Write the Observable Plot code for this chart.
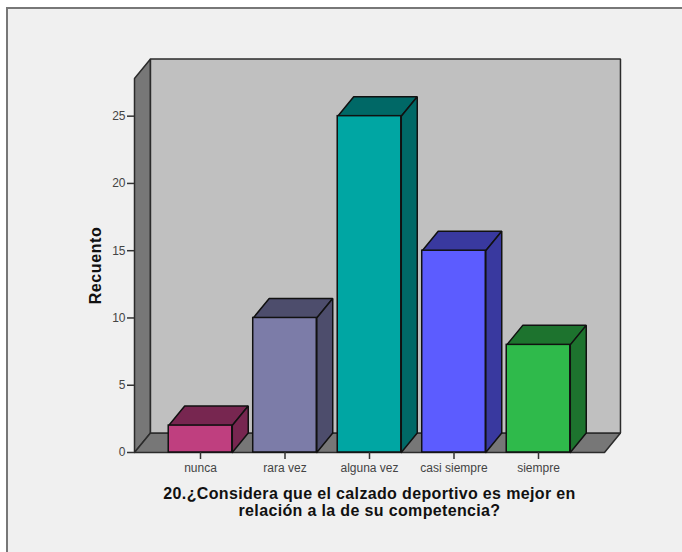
<!DOCTYPE html>
<html lang="es">
<head>
<meta charset="utf-8">
<script src="https://cdn.jsdelivr.net/npm/d3@7"></script>
<script src="https://cdn.jsdelivr.net/npm/@observablehq/plot@0.6"></script>
<style>
  html, body { margin: 0; padding: 0; background: #fff; }
  #panel {
    position: absolute; left: 6px; top: 7px; width: 676px; height: 545px;
    box-sizing: border-box; background: #f0f0f0;
    border-left: 2px solid #777; border-top: 2px solid #777;
  }
  #chart { position: absolute; left: 0; top: 0; }
  #chart svg { background: transparent; display: block; }
  .y-title text { letter-spacing: 0.6px; }
  .x-title text { letter-spacing: 0.35px; }
</style>
</head>
<body>
<div id="panel"></div>
<div id="chart"></div>
<script>
// Answer categories and counts
const categories = ["nunca", "rara vez", "alguna vez", "casi siempre", "siempre"];
const counts = [2, 10, 25, 15, 8];

// Front and shaded face colours of each bar
const frontColors = ["#bf3f7f", "#7c7ca8", "#00a6a3", "#5c5cff", "#2fba4b"];
const shadeColors = ["#772650", "#4d4d6c", "#006866", "#39399f", "#1d732e"];

const yTicks = [0, 5, 10, 15, 20, 25];
const yLabel = "Recuento";
const xTitle = "20.¿Considera que el calzado deportivo es mejor en\nrelación a la de su competencia?";

// Extent of the pseudo-3D box, in data units
const xMin = -0.781, xMax = 4.781, yMax = 27.8;
const depthX = 0.189, depthY = 1.45, halfBar = 0.376;

// Closed polygon rows for the line mark
const polygon = (id, fill, corners) =>
  [...corners, corners[0]].map(([x, y]) => ({id, fill, x, y}));

const box = [
  polygon("wall-left", "#777777", [[xMin, 0], [xMin, yMax], [xMin + depthX, yMax + depthY], [xMin + depthX, depthY]]),
  polygon("floor", "#777777", [[xMin, 0], [xMax, 0], [xMax + depthX, depthY], [xMin + depthX, depthY]]),
  polygon("wall-back", "#c0c0c0", [[xMin + depthX, depthY], [xMax + depthX, depthY], [xMax + depthX, yMax + depthY], [xMin + depthX, yMax + depthY]])
].flat();

const barFaces = counts.flatMap((v, i) => {
  const l = i - halfBar, r = i + halfBar;
  return [
    ...polygon(`top-${i}`, shadeColors[i], [[l, v], [r, v], [r + depthX, v + depthY], [l + depthX, v + depthY]]),
    ...polygon(`side-${i}`, shadeColors[i], [[r, 0], [r + depthX, depthY], [r + depthX, v + depthY], [r, v]])
  ];
});

const fronts = counts.map((v, i) => ({i, v, fill: frontColors[i]}));

const chart = Plot.plot({
  width: 682,
  height: 552,
  marginLeft: 134,
  marginRight: 78,
  marginTop: 78,
  marginBottom: 100,
  style: {background: "transparent", fontFamily: "'Liberation Sans', Arial, sans-serif"},
  x: {type: "linear", domain: [xMin, xMax]},
  y: {domain: [0, yMax]},
  marks: [
    Plot.line(box, {x: "x", y: "y", z: "id", fill: "fill", stroke: "#2b2b2b", strokeWidth: 1.5, strokeLinejoin: "miter"}),
    Plot.line(barFaces, {x: "x", y: "y", z: "id", fill: "fill", stroke: "#111", strokeWidth: 1.5, strokeLinejoin: "miter"}),
    Plot.rect(fronts, {
      x1: d => d.i - halfBar, x2: d => d.i + halfBar, y1: 0, y2: "v",
      fill: "fill", stroke: "#111", strokeWidth: 1.5
    }),
    Plot.axisY({
      ticks: yTicks, tickSize: 7, tickPadding: 2, label: null,
      fontSize: 12, color: "#444", stroke: "#333", strokeWidth: 1.5
    }),
    Plot.axisX({
      ticks: categories.map((_, i) => i), tickFormat: i => categories[i],
      tickSize: 7, tickPadding: 4, label: null,
      fontSize: 12, color: "#444", stroke: "#333", strokeWidth: 1.5
    }),
    Plot.text([yLabel], {
      frameAnchor: "left", rotate: -90, dx: -39, textAnchor: "middle",
      fontSize: 16, fontWeight: "bold", fill: "#111", className: "y-title"
    }),
    Plot.text([xTitle], {
      frameAnchor: "bottom", dy: 49.5, lineHeight: 1.06,
      fontSize: 16, fontWeight: "bold", fill: "#111", lineAnchor: "middle", className: "x-title"
    })
  ]
});

document.getElementById("chart").append(chart);
</script>
</body>
</html>
